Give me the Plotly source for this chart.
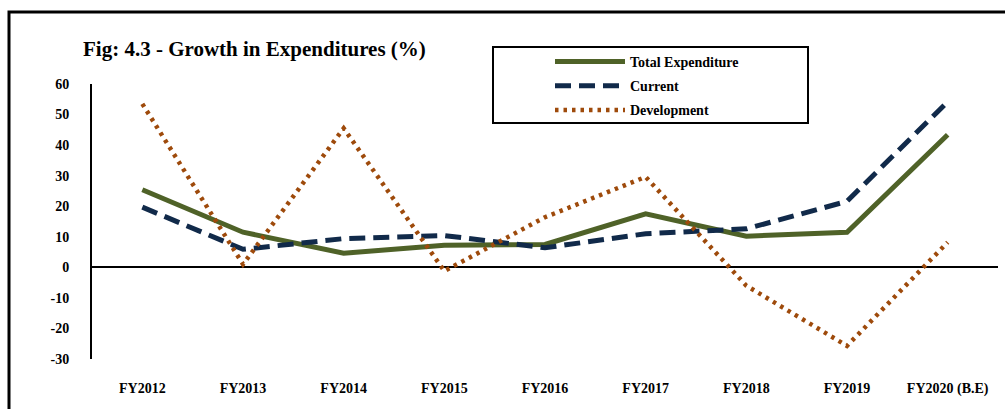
import plotly.graph_objects as go

years = ["FY2012", "FY2013", "FY2014", "FY2015", "FY2016", "FY2017", "FY2018", "FY2019", "FY2020 (B.E)"]
total_expenditure = [25.4, 11.5, 4.6, 7.2, 7.5, 17.5, 10.2, 11.5, 43.4]
current = [19.7, 5.9, 9.4, 10.4, 6.4, 11.0, 12.6, 21.6, 54.2]
development = [53.5, 1.0, 45.5, -1.2, 16.4, 29.6, -6.0, -25.7, 8.2]
y_ticks = [60, 50, 40, 30, 20, 10, 0, -10, -20, -30]

FONT = "Liberation Serif"

fig = go.Figure()
fig.add_trace(go.Scatter(x=years, y=total_expenditure, mode="lines", name="<b>Total Expenditure</b>",
                         legendgroup="a", line=dict(color="#4F6228", width=5)))
fig.add_trace(go.Scatter(x=years, y=current, mode="lines", name="<b>Current</b>",
                         legendgroup="b", line=dict(color="#112A4A", width=5, dash="16px,8px")))
fig.add_trace(go.Scatter(x=years, y=development, mode="lines", name="<b>Development</b>",
                         legendgroup="c", line=dict(color="#9E4A0B", width=4.5, dash="3.5px,5px")))

# outer border
fig.add_shape(type="rect", xref="paper", yref="paper",
              x0=(9 - 92) / 906, x1=(1012 - 92) / 906,
              y0=-(420 - 359) / 275, y1=(359 - 12) / 275,
              line=dict(color="black", width=3), fillcolor="rgba(0,0,0,0)", layer="below")
# legend box
fig.add_shape(type="rect", xref="paper", yref="paper",
              x0=(493 - 92) / 906, x1=(808 - 92) / 906,
              y0=(359 - 123) / 275, y1=(359 - 47) / 275,
              line=dict(color="black", width=2), fillcolor="rgba(0,0,0,0)")

fig.update_layout(
    width=1005, height=409,
    margin=dict(l=92, r=7, t=84, b=50),
    paper_bgcolor="white", plot_bgcolor="white",
    font=dict(family=FONT, color="black"),
    title=dict(text="<b>Fig: 4.3 - Growth in Expenditures (%)</b>", xref="container", yref="container",
               x=83 / 1005, xanchor="left", y=1 - 49 / 409, yanchor="middle",
               font=dict(family=FONT, size=21, color="black")),
    showlegend=True,
    legend=dict(x=(550 - 92) / 906, xanchor="left", y=(359 - 46) / 275, yanchor="top",
                bgcolor="rgba(0,0,0,0)", borderwidth=0,
                font=dict(family=FONT, size=14, color="black"),
                itemwidth=70, traceorder="grouped", tracegroupgap=3),
    xaxis=dict(range=[-0.5, 8.5], showgrid=False, zeroline=False, showline=False,
               ticks="", tickfont=dict(family=FONT, size=14, color="black"),
               ticklabelstandoff=19, tickvals=years,
               ticktext=["<b>%s</b>" % y for y in years]),
    yaxis=dict(range=[-30, 60], showgrid=False, zeroline=True, zerolinecolor="black", zerolinewidth=2,
               showline=True, linecolor="black", linewidth=2, ticks="",
               tickvals=y_ticks, ticktext=["<b>%d</b>" % v for v in y_ticks],
               tickfont=dict(family=FONT, size=14, color="black"), ticklabelstandoff=18),
)

fig.write_html("out.html", config={"displayModeBar": False},
               post_script="document.body.style.margin='0';document.body.style.overflow='hidden';")
